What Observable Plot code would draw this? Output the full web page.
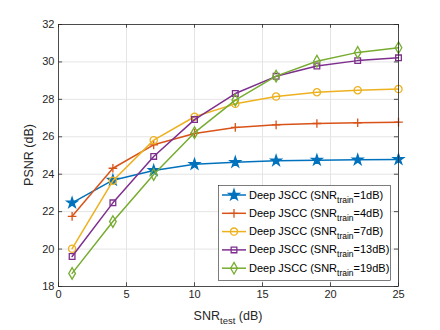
<!DOCTYPE html>
<html>
<head>
<meta charset="utf-8">
<script src="https://cdn.jsdelivr.net/npm/d3@7"></script>
<script src="https://cdn.jsdelivr.net/npm/@observablehq/plot@0.6"></script>
<style>
  html, body { margin: 0; padding: 0; background: #fff; }
  #chart { width: 440px; height: 330px; }
</style>
</head>
<body>
<div id="chart"></div>
<script>
const snrTest = [1, 4, 7, 10, 13, 16, 19, 22, 25];
const trainLabels = ["1dB", "4dB", "7dB", "13dB", "19dB"];
const psnr1 = [22.47, 23.68, 24.2, 24.53, 24.64, 24.72, 24.75, 24.77, 24.79];
const psnr4 = [21.75, 24.32, 25.57, 26.18, 26.5, 26.64, 26.71, 26.75, 26.78];
const psnr7 = [20.02, 23.65, 25.82, 27.07, 27.76, 28.15, 28.38, 28.49, 28.55];
const psnr13 = [19.6, 22.47, 24.95, 26.92, 28.31, 29.23, 29.78, 30.07, 30.22];
const psnr19 = [18.7, 21.47, 23.98, 26.22, 27.96, 29.24, 30.04, 30.51, 30.76];
const xTicks = [0, 5, 10, 15, 20, 25];
const yTicks = [18, 20, 22, 24, 26, 28, 30, 32];

const colors = ["#0072BD", "#D95319", "#EDB120", "#7E2F8E", "#77AC30"];
const symbols = ["star", "plus", "circle", "square", "diamond"];
const filled = [true, false, false, false, false];
const sizes = [3.3, 2.9, 3.6, 3.2, 3.5];

const allSeries = [psnr1, psnr4, psnr7, psnr13, psnr19];
const rows = [];
allSeries.forEach((vals, si) => vals.forEach((v, i) => rows.push({x: snrTest[i], y: v, s: si})));

const font = "'Liberation Sans', Arial, Helvetica, sans-serif";
const ink = "#262626";

const marks = [
  Plot.gridX(xTicks, {stroke: "#e5e5e5", strokeOpacity: 1}),
  Plot.gridY(yTicks, {stroke: "#e5e5e5", strokeOpacity: 1}),
];
allSeries.forEach((vals, si) => {
  const d = rows.filter(r => r.s === si);
  marks.push(Plot.line(d, {x: "x", y: "y", stroke: colors[si], strokeWidth: 1.5}));
  marks.push(Plot.dot(d, {
    x: "x", y: "y", symbol: () => symbols[si], r: sizes[si],
    stroke: colors[si], strokeWidth: 1.3,
    fill: filled[si] ? colors[si] : "none"
  }));
});
// inward ticks (bottom/top/left/right)
marks.push(Plot.ruleX(xTicks, {y1: 18, y2: 18.2, stroke: ink, strokeWidth: 0.8}));
marks.push(Plot.ruleX(xTicks, {y1: 32, y2: 31.8, stroke: ink, strokeWidth: 0.8}));
marks.push(Plot.ruleY(yTicks, {x1: 0, x2: 0.3, stroke: ink, strokeWidth: 0.8}));
marks.push(Plot.ruleY(yTicks, {x1: 25, x2: 24.7, stroke: ink, strokeWidth: 0.8}));
marks.push(Plot.frame({stroke: ink, strokeWidth: 0.8}));
marks.push(Plot.axisX(xTicks, {tickSize: 0, tickPadding: 4, label: null, fontSize: 11, color: ink}));
marks.push(Plot.axisY(yTicks, {tickSize: 0, tickPadding: 4, label: null, fontSize: 11, color: ink}));

const chart = Plot.plot({
  width: 440, height: 330,
  marginLeft: 58, marginRight: 42, marginTop: 24, marginBottom: 44,
  x: {domain: [0, 25]},
  y: {domain: [18, 32]},
  style: {fontFamily: font, fontSize: "11px", color: ink, background: "#fff", overflow: "visible"},
  marks
});

const svg = d3.select(chart);

// X axis label with subscript
const xl = svg.append("text")
  .attr("x", 228).attr("y", 320)
  .attr("text-anchor", "middle")
  .attr("font-family", font).attr("font-size", 12.5).attr("fill", ink);
xl.append("tspan").text("SNR");
xl.append("tspan").attr("font-size", 9.5).attr("dy", 3.5).text("test");
xl.append("tspan").attr("dy", -3.5).text(" (dB)");

// Y axis label
svg.append("text")
  .attr("transform", "translate(33,155) rotate(-90)")
  .attr("text-anchor", "middle")
  .attr("font-family", font).attr("font-size", 12.5).attr("fill", ink)
  .text("PSNR (dB)");

// Legend
const lg = svg.append("g");
lg.append("rect").attr("x", 218.5).attr("y", 185.5).attr("width", 172).attr("height", 95)
  .attr("fill", "#fff").attr("stroke", "#262626").attr("stroke-width", 0.6);
const d3syms = {star: d3.symbolStar, plus: d3.symbolPlus, circle: d3.symbolCircle, square: d3.symbolSquare, diamond: d3.symbolDiamond};
trainLabels.forEach((lab, i) => {
  const yy = 195 + i * 18.3;
  const g = lg.append("g");
  g.append("line").attr("x1", 222).attr("x2", 246).attr("y1", yy).attr("y2", yy)
    .attr("stroke", colors[i]).attr("stroke-width", 1.5);
  const sh = symbols[i];
  const r = sizes[i];
  g.append("path")
    .attr("transform", `translate(234,${yy})`)
    .attr("d", d3.symbol(d3syms[sh], Math.PI * r * r)())
    .attr("fill", filled[i] ? colors[i] : "none")
    .attr("stroke", colors[i]).attr("stroke-width", 1.3);
  const t = g.append("text").attr("x", 249).attr("y", yy + 3.5)
    .attr("text-anchor", "start")
    .attr("font-family", font).attr("font-size", 11).attr("fill", "#000");
  t.append("tspan").text("Deep JSCC (SNR");
  t.append("tspan").attr("font-size", 8.5).attr("dy", 4).text("train");
  t.append("tspan").attr("dy", -4).text("=" + lab + ")");
});

document.getElementById("chart").appendChild(chart);
</script>
</body>
</html>
